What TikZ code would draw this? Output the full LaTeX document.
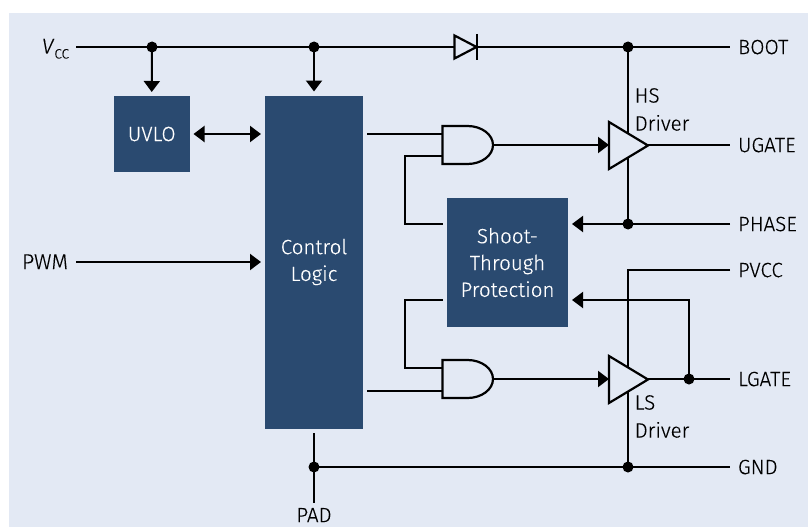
\documentclass[tikz,border=0pt]{standalone}
\usepackage{fontspec}
\setmainfont{Fira Sans Light}[ItalicFont={Fira Sans Light Italic},RawFeature={embolden=0.25}]
\usetikzlibrary{arrows.meta}
\definecolor{panel}{HTML}{E3E9F4}
\definecolor{block}{HTML}{2A4A70}
\tikzset{
  wire/.style={line width=2pt,black},
  arr/.style={wire,-{Triangle[length=11pt,width=16pt]}},
  darr/.style={wire,{Triangle[length=11pt,width=16pt]}-{Triangle[length=11pt,width=16pt]}},
  blockbox/.style={fill=block,text=white,inner sep=0pt,outer sep=4pt,align=center,font=\fontsize{20.6}{26.8}\selectfont},
  sig/.style={inner sep=0pt,outer xsep=8pt,outer ysep=0pt,text height=14.2pt,text depth=0pt,anchor=west,font=\fontsize{20.6}{24}\selectfont},
  siglbl/.style={inner sep=0pt,align=left,anchor=north west,font=\fontsize{20.6}{28}\selectfont},
  gate/.style={line width=2.2pt,fill=panel,line join=miter},
  dot/.style={circle,fill=black,inner sep=0pt,minimum size=11pt}
}
\newcommand{\andgate}[2]{% name, top-left corner in px
  \draw[gate] #2 -- ++(25,0) arc[start angle=-90,end angle=90,x radius=25.5,y radius=19] -- ++(-25,0) -- cycle;
}
\newcommand{\driver}[2]{% left-mid vertex given
  \draw[gate] #2 ++(0,23.5) -- ++(39,-23.5) -- ++(-39,-23.5) -- cycle;
}
\begin{document}
\begin{tikzpicture}[x=1pt,y=-1pt]
\useasboundingbox (0,0) rectangle (808,527);
\fill[panel] (9,13) rectangle (808,527);

% blocks
\node[blockbox,minimum width=75.5pt,minimum height=76pt] (uvlo) at (151.75,134) {UVLO};
\node[blockbox,minimum width=98pt,minimum height=333pt] (logic) at (314,262) {Control\\Logic};
\node[blockbox,minimum width=121pt,minimum height=129pt] (stp) at (507.5,262.5) {Shoot-\\Through\\Protection};

% terminals
\node[anchor=east,inner sep=0pt,outer xsep=7pt,text height=15pt,text depth=4pt,font=\fontsize{21.5}{24}\selectfont] (vcc) at (76,48) {\textit{V}\raisebox{-5pt}{\fontsize{13.5}{16}\selectfont CC}};
\node[anchor=east,inner sep=0pt,outer xsep=8pt,text height=14.2pt,text depth=0pt,font=\fontsize{21.5}{24}\selectfont] (pwm) at (76,262) {PWM};
\node[sig] (boot) at (730,47) {BOOT};
\node[sig] (ugate) at (730,145) {UGATE};
\node[sig] (phase) at (730,224) {PHASE};
\node[sig] (pvcc) at (730,270) {PVCC};
\node[sig] (lgate) at (730,379) {LGATE};
\node[sig] (gnd) at (730,467) {GND};
\node[anchor=north,inner sep=0pt,outer ysep=5pt,font=\fontsize{20.6}{24}\selectfont] (pad) at (314,503) {PAD};

% junctions and pins
\coordinate (j1) at (152,47);
\coordinate (j2) at (314,47);
\coordinate (j3) at (628,47);
\coordinate (j4) at (628,224);
\coordinate (j5) at (314,467);
\coordinate (j6) at (628,467);
\coordinate (j7) at (689,379);
\coordinate (pv) at (628,270);
\coordinate (fb) at (689,300);
\coordinate (g1a) at (442.5,134);
\coordinate (g1b) at (442.5,156);
\coordinate (g1o) at (493,145);
\coordinate (g2a) at (442.5,368);
\coordinate (g2b) at (442.5,391);
\coordinate (g2o) at (493,379);
\coordinate (d1i) at (609,145);
\coordinate (d1o) at (648,145);
\coordinate (d2i) at (609,379);
\coordinate (d2o) at (648,379);
\coordinate (k1) at (405,156);
\coordinate (k2) at (405,224);
\coordinate (k3) at (405,300);
\coordinate (k4) at (405,368);
\coordinate (s1) at (443,224);
\coordinate (s2) at (443,300);
\coordinate (l1) at (367,134);
\coordinate (l2) at (367,391);
\coordinate (padtop) at (314,433);

% wires
\draw[wire] (76,47) -- (boot.west);
\draw[arr] (j1) -- (uvlo.north);
\draw[arr] (j2) -- (logic.north);
\draw[darr] (uvlo.east) -- (uvlo.east -| logic.west);
\draw[arr] (pwm.east) -- (pwm.east -| logic.west);
\draw[wire] (l1) -- (g1a);
\draw[wire] (l2) -- (g2b);
\draw[wire] (g1b) -- (k1) -- (k2) -- (s1);
\draw[wire] (g2a) -- (k4) -- (k3) -- (s2);
\draw[wire] (j3) -- (j4);
\draw[wire] (pvcc.west) -- (pv) -- (j6);
\draw[wire] (padtop) -- (pad.north);
\draw[wire] (j5) -- (gnd.west);
\draw[arr] (phase.west) -- (phase.west -| stp.east);
\draw[arr] (j7) -- (fb) -- (fb -| stp.east);
\draw[wire] (d1o) -- (ugate.west);
\draw[wire] (d2o) -- (lgate.west);

% gates and drivers
\andgate{g1}{(442.5,126)}
\andgate{g2}{(442.5,360)}
\driver{d1}{(609,145.5)}
\driver{d2}{(609,379.5)}
\draw[arr] (g1o) -- (d1i);
\draw[arr] (g2o) -- (d2i);

% diode
\fill[panel] (454,36) rectangle (476,58);
\draw[gate] (454.5,35.5) -- (476.5,47) -- (454.5,58.5) -- cycle;
\draw[wire] (477,34) -- (477,60);

% dots
\foreach \j in {j1,j2,j3,j4,j5,j6,j7} \node[dot] at (\j) {};

% driver labels
\node[siglbl] (hs) at (634.5,88) {HS\\Driver};
\node[siglbl] (ls) at (634.5,395) {LS\\Driver};
\end{tikzpicture}
\end{document}
